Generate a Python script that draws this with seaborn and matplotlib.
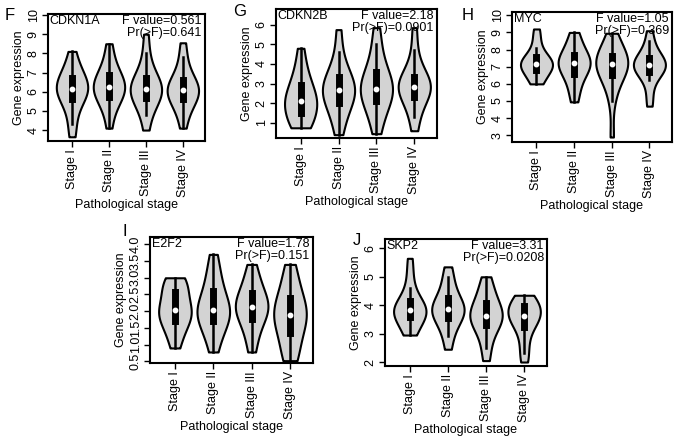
import pandas as pd
import numpy as np
import matplotlib
matplotlib.use("Agg")
import matplotlib.pyplot as plt
import seaborn as sns

plt.rcParams['font.family'] = ['Liberation Sans', 'DejaVu Sans']

stages = ["Stage I", "Stage II", "Stage III", "Stage IV"]

# expression samples per stage (min .. max)
cdkn1a = [
    [3.65, 4.3, 5.0, 5.4, 5.7, 5.85, 6.0, 6.1, 6.2, 6.3, 6.5, 6.7, 6.85, 7.1, 7.5, 8.1],
    [4.1, 4.9, 5.3, 5.6, 5.75, 5.95, 6.1, 6.2, 6.3, 6.45, 6.6, 6.8, 7.0, 7.3, 7.8, 8.5],
    [4.0, 4.8, 5.2, 5.5, 5.7, 5.85, 6.0, 6.1, 6.2, 6.3, 6.45, 6.65, 6.9, 7.3, 8.0, 9.0],
    [4.1, 4.8, 5.2, 5.45, 5.65, 5.8, 5.95, 6.05, 6.15, 6.25, 6.4, 6.55, 6.8, 7.2, 7.8, 8.55],
]
cdkn2b = [
    [0.75, 0.8, 1.0, 1.3, 1.55, 1.75, 1.95, 2.05, 2.2, 2.35, 2.6, 2.9, 3.1, 3.5, 4.0, 4.8],
    [0.4, 1.0, 1.5, 1.85, 2.1, 2.3, 2.5, 2.6, 2.7, 2.9, 3.1, 3.3, 3.5, 3.9, 4.6, 5.75],
    [0.45, 1.1, 1.6, 1.95, 2.2, 2.4, 2.6, 2.7, 2.8, 3.0, 3.3, 3.5, 3.8, 4.3, 5.0, 5.85],
    [0.6, 1.3, 1.8, 2.15, 2.4, 2.6, 2.7, 2.8, 2.9, 3.0, 3.1, 3.3, 3.5, 3.9, 4.7, 5.85],
]
myc = [
    [6.0, 6.1, 6.4, 6.7, 6.85, 6.95, 7.05, 7.1, 7.2, 7.3, 7.4, 7.5, 7.7, 8.1, 8.7, 9.2],
    [4.95, 5.5, 6.0, 6.4, 6.65, 6.85, 7.0, 7.15, 7.25, 7.35, 7.5, 7.65, 7.85, 8.2, 8.6, 9.0],
    [2.9, 5.0, 5.8, 6.3, 6.55, 6.8, 7.0, 7.1, 7.2, 7.3, 7.45, 7.6, 7.8, 8.1, 8.5, 8.95],
    [4.7, 5.3, 6.2, 6.6, 6.75, 6.9, 7.0, 7.05, 7.1, 7.2, 7.3, 7.45, 7.6, 7.9, 8.5, 9.1],
]
e2f2 = [
    [0.9, 1.2, 1.45, 1.6, 1.75, 1.85, 1.95, 2.0, 2.05, 2.2, 2.4, 2.55, 2.7, 2.85, 2.95, 3.0],
    [0.78, 1.15, 1.4, 1.6, 1.75, 1.85, 1.95, 2.0, 2.05, 2.2, 2.35, 2.55, 2.75, 3.0, 3.3, 3.7],
    [0.78, 1.15, 1.45, 1.65, 1.8, 1.95, 2.05, 2.1, 2.15, 2.25, 2.4, 2.5, 2.65, 2.85, 3.1, 3.4],
    [0.52, 0.6, 0.9, 1.2, 1.4, 1.6, 1.75, 1.85, 1.9, 2.05, 2.2, 2.35, 2.5, 2.8, 3.1, 3.4],
]
skp2 = [
    [2.95, 3.05, 3.3, 3.5, 3.6, 3.7, 3.75, 3.8, 3.85, 3.9, 4.0, 4.1, 4.3, 4.6, 5.1, 5.65],
    [2.45, 2.9, 3.2, 3.45, 3.6, 3.7, 3.78, 3.82, 3.88, 3.95, 4.05, 4.2, 4.4, 4.7, 5.0, 5.35],
    [2.05, 2.5, 2.9, 3.2, 3.35, 3.45, 3.55, 3.6, 3.65, 3.75, 3.9, 4.05, 4.2, 4.45, 4.7, 5.0],
    [2.0, 2.3, 2.7, 3.1, 3.3, 3.45, 3.55, 3.6, 3.65, 3.75, 3.85, 3.95, 4.05, 4.15, 4.25, 4.35],
]

genes = ["CDKN1A", "CDKN2B", "MYC", "E2F2", "SKP2"]
letters = ["F", "G", "H", "I", "J"]
f_values = ["0.561", "2.18", "1.05", "1.78", "3.31"]
p_values = ["0.641", "0.0901", "0.369", "0.151", "0.0208"]
yticks = [[4, 5, 6, 7, 8, 9, 10], [1, 2, 3, 4, 5, 6], [3, 4, 5, 6, 7, 8, 9, 10],
          [0.5, 1.0, 1.5, 2.0, 2.5, 3.0, 3.5, 4.0], [2, 3, 4, 5, 6]]
ylims = [(3.43, 10.05), (0.23, 6.8), (2.61, 10.19), (0.45, 4.22), (1.86, 6.33)]

# axes boxes in pixels: left, top, right, bottom
boxes = [(48, 14, 205, 141), (276, 9, 437, 138), (512, 12, 672, 142),
         (150, 237, 313, 363), (385, 239, 547, 366)]
letter_pos = [(5, 15), (233, 12), (462, 15), (122, 232), (353, 240)]

W, H = 677, 441
fig = plt.figure(figsize=(W / 100, H / 100), dpi=100)

for i, samples in enumerate([cdkn1a, cdkn2b, myc, e2f2, skp2]):
    l, t, r, b = boxes[i]
    ax = fig.add_axes([l / W, 1 - b / H, (r - l) / W, (b - t) / H])
    df = pd.DataFrame({
        "stage": [s for s, vals in zip(stages, samples) for _ in vals],
        "value": [v for vals in samples for v in vals],
    })
    sns.violinplot(data=df, x="stage", y="value", ax=ax, color="#d3d3d3",
                   linecolor="black", linewidth=1.5, cut=0, density_norm="width",
                   width=0.85, inner="box", saturation=1,
                   inner_kws=dict(box_width=5, whis_width=1.8, marker="o", markersize=3.2))
    ax.set_xlim(-0.65, 3.6)
    ax.set_ylim(*ylims[i])
    ax.set_yticks(yticks[i])
    if i == 3:
        ax.set_yticklabels([f"{v:.1f}" for v in yticks[i]])
    ax.tick_params(axis="y", labelrotation=90, labelsize=9, length=4, width=1, pad=2)
    for lab in ax.get_yticklabels():
        lab.set_va("center")
    ax.tick_params(axis="x", labelrotation=90, labelsize=9, length=4, width=1, pad=2)
    ax.set_xlabel("Pathological stage", fontsize=9, labelpad=1)
    ax.set_ylabel("Gene expression", fontsize=9, labelpad=2)
    for sp in ax.spines.values():
        sp.set_linewidth(1.5)
    ax.text(0.01, 0.99, genes[i], transform=ax.transAxes, ha="left", va="top", fontsize=9)
    ax.text(0.98, 0.99, f"F value={f_values[i]}\nPr(>F)={p_values[i]}",
            transform=ax.transAxes, ha="right", va="top", fontsize=9,
            linespacing=1.0, multialignment="right")
    lx, ly = letter_pos[i]
    fig.text(lx / W, 1 - ly / H, letters[i], fontsize=12, ha="left", va="center")

fig.savefig("out.png", dpi=100)
